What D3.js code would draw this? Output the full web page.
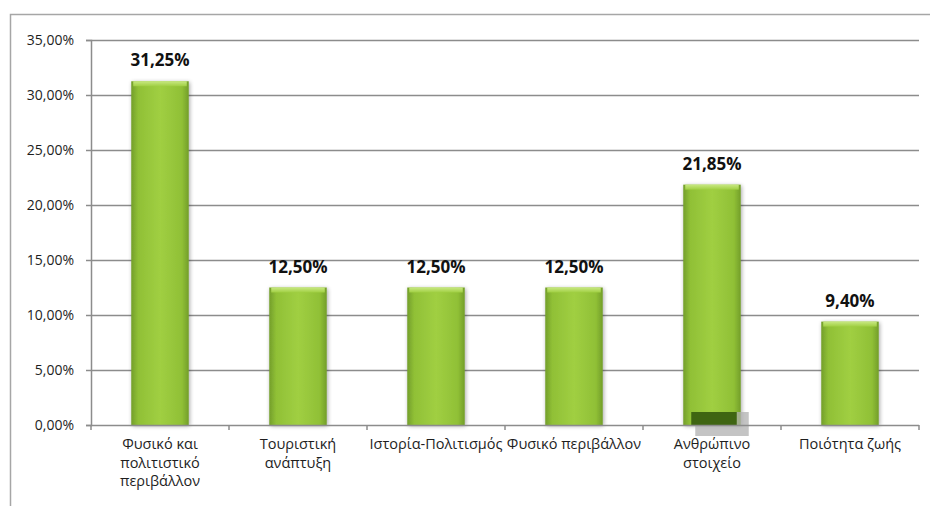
<!DOCTYPE html>
<html><head><meta charset="utf-8">
<script src="https://cdn.jsdelivr.net/npm/d3@7"></script>
<style>body{margin:0;background:#fff}svg{display:block}</style>
</head><body>
<svg id="c" width="930" height="506"></svg>
<script>
const categories = [["Φυσικό και","πολιτιστικό","περιβάλλον"],["Τουριστική","ανάπτυξη"],["Ιστορία-Πολιτισμός"],["Φυσικό περιβάλλον"],["Ανθρώπινο","στοιχείο"],["Ποιότητα ζωής"]];
const values = [31.25, 12.5, 12.5, 12.5, 21.85, 9.4];
const yTicks = [0, 5, 10, 15, 20, 25, 30, 35];

const svg = d3.select("#c");
const font = "'Open Sans', 'Noto Sans', sans-serif";
const L = 91, R = 919, T = 40, B = 425;

// outer frame
svg.append("path").attr("d", "M10.5,506 V14.5 H930").attr("fill","none").attr("stroke","#a6a6a6").attr("stroke-width",1.5);

const x = d3.scaleBand().domain(d3.range(categories.length)).range([L, R]).paddingInner(1.4/2.4).paddingOuter(0.7/2.4);
const y = d3.scaleLinear().domain([0, 35]).range([B, T]);

const defs = svg.append("defs");
const g = defs.append("linearGradient").attr("id","bar").attr("x1","0").attr("x2","1").attr("y1","0").attr("y2","0");
g.append("stop").attr("offset","0").attr("stop-color","#739e2a");
g.append("stop").attr("offset","0.12").attr("stop-color","#90c036");
g.append("stop").attr("offset","0.5").attr("stop-color","#a0cf42");
g.append("stop").attr("offset","0.88").attr("stop-color","#90c036");
g.append("stop").attr("offset","1").attr("stop-color","#739e2a");
const gt = defs.append("linearGradient").attr("id","bartop").attr("x1","0").attr("x2","0").attr("y1","0").attr("y2","1");
gt.append("stop").attr("offset","0").attr("stop-color","#c8e882");
gt.append("stop").attr("offset","1").attr("stop-color","#a0cf42");
const f = defs.append("filter").attr("id","sh").attr("x","-20%").attr("y","-20%").attr("width","140%").attr("height","140%");
f.append("feGaussianBlur").attr("in","SourceAlpha").attr("stdDeviation",2);
f.append("feOffset").attr("dx",1).attr("dy",1).attr("result","b");
f.append("feComponentTransfer").append("feFuncA").attr("type","linear").attr("slope",0.35);
const fm = f.append("feMerge"); fm.append("feMergeNode"); fm.append("feMergeNode").attr("in","SourceGraphic");

// gridlines
svg.append("g").selectAll("line").data(yTicks.slice(1)).join("line")
  .attr("x1", L).attr("x2", R).attr("y1", d => y(d)+0.5).attr("y2", d => y(d)+0.5)
  .attr("stroke", "#8c8c8c").attr("stroke-width", 1.5);

// y axis
const ya = svg.append("g").attr("transform", `translate(${L},0)`)
  .call(d3.axisLeft(y).tickValues(yTicks).tickSize(5).tickPadding(12).tickFormat(d => d.toFixed(2).replace(".", ",") + "%"));
ya.select(".domain").attr("stroke", "#8c8c8c").attr("stroke-width", 1.5);
ya.selectAll(".tick line").attr("stroke", "#8c8c8c").attr("stroke-width", 1.5);
ya.selectAll("text").attr("font-family", font).attr("font-size", 14).attr("fill", "#1e1e1e");

// bars
const bars = svg.append("g");
bars.selectAll("rect.b").data(values).join("rect").attr("class","b")
  .attr("x", (d,i) => x(i)).attr("width", x.bandwidth())
  .attr("y", d => y(d)).attr("height", d => B - y(d))
  .attr("fill", "url(#bar)").attr("filter","url(#sh)");
bars.selectAll("rect.t").data(values).join("rect").attr("class","t")
  .attr("x", (d,i) => x(i)+2).attr("width", x.bandwidth()-4)
  .attr("y", d => y(d)).attr("height", 5)
  .attr("fill", "url(#bartop)");

// artifact on 5th bar
svg.append("rect").attr("x", x(4)+12).attr("y", B-13).attr("width", x.bandwidth()-4).attr("height", 24).attr("fill","#b0b0b0").attr("opacity",0.75);
svg.append("rect").attr("x", x(4)+8).attr("y", B-13).attr("width", x.bandwidth()-12).attr("height", 13).attr("fill","#3f6512");

// value labels
svg.append("g").selectAll("text").data(values).join("text")
  .attr("x", (d,i) => x(i) + x.bandwidth()/2).attr("y", d => y(d) - 15)
  .attr("text-anchor","middle").attr("font-family", font).attr("font-weight","bold").attr("font-size", 17).attr("fill","#111")
  .text(d => d.toFixed(2).replace(".", ",") + "%");

// x axis
const xa = svg.append("g").attr("transform", `translate(0,${B})`);
xa.append("line").attr("x1", L).attr("x2", R).attr("y1", 0.5).attr("y2", 0.5).attr("stroke","#8c8c8c").attr("stroke-width",1.5);
const step = (R - L) / categories.length;
xa.selectAll("line.tk").data(d3.range(categories.length+1)).join("line").attr("class","tk")
  .attr("x1", i => L + i*step).attr("x2", i => L + i*step).attr("y1", 0).attr("y2", 5).attr("stroke","#8c8c8c").attr("stroke-width",1.5);
xa.selectAll("text").data(categories).join("text")
  .attr("text-anchor","middle").attr("font-family", font).attr("font-size", 14.5).attr("fill","#1e1e1e")
  .each(function(d,i){
    const t = d3.select(this);
    d.forEach((s,k) => t.append("tspan").attr("x", x(i)+x.bandwidth()/2).attr("y", 24 + k*18.5).text(s));
  });
</script>
</body></html>
